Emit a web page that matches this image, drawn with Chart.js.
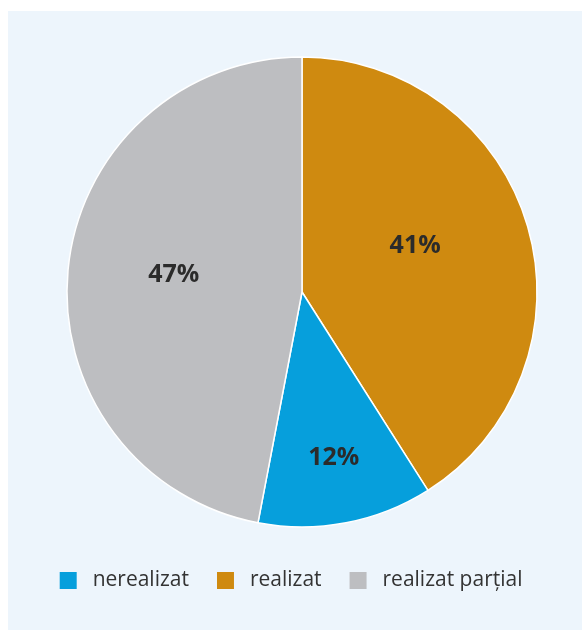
<!DOCTYPE html>
<html lang="ro">
<head>
    <meta charset="UTF-8">
    <title>Realizare</title>
    <script src="https://cdn.jsdelivr.net/npm/chart.js"></script>
    <style>
        body {
            margin: 0;
            background: #ffffff;
        }
        .panel {
            position: absolute;
            left: 8px;
            top: 11px;
            width: 588px;
            height: 619px;
            background: #edf5fc;
        }
    </style>
</head>
<body>
    <div class="panel">
        <canvas id="myChart" width="588" height="619"></canvas>
    </div>
    <script>
        // slices in drawing order, clockwise from 12 o'clock
        const categories = ['realizat', 'nerealizat', 'realizat parțial'];
        const values = [41, 12, 47];
        const colors = ['#cf8a10', '#069fdc', '#bdbec1'];
        // legend shows them in another order
        const legendOrder = ['nerealizat', 'realizat', 'realizat parțial'];
        // where each percentage sits: fraction of radius, and a small turn (degrees)
        const labelDist = [0.52, 0.72, 0.55];
        const labelTurn = [-6, 0, 2];

        const pctLabels = {
            id: 'pctLabels',
            afterDatasetsDraw(chart) {
                const ctx = chart.ctx;
                const meta = chart.getDatasetMeta(0);
                ctx.save();
                ctx.font = 'bold 25px "Open Sans"';
                ctx.fillStyle = '#2b2b2b';
                ctx.textAlign = 'center';
                ctx.textBaseline = 'middle';
                meta.data.forEach(function (arc, i) {
                    const p = arc.getProps(['x', 'y', 'startAngle', 'endAngle', 'outerRadius'], true);
                    const mid = (p.startAngle + p.endAngle) / 2 + labelTurn[i] * Math.PI / 180;
                    const r = p.outerRadius * labelDist[i];
                    ctx.fillText(values[i] + '%', p.x + Math.cos(mid) * r, p.y + Math.sin(mid) * r);
                });
                ctx.restore();
            }
        };

        const ctx = document.getElementById('myChart');
        const myChart = new Chart(ctx, {
            type: 'pie',
            data: {
                labels: categories,
                datasets: [{
                    data: values,
                    backgroundColor: colors,
                    borderColor: '#ffffff',
                    borderWidth: 1.5,
                    radius: 235
                }]
            },
            options: {
                responsive: false,
                animation: false,
                layout: {
                    padding: { top: 31, bottom: 29 }
                },
                plugins: {
                    tooltip: { enabled: false },
                    legend: {
                        position: 'bottom',
                        labels: {
                            boxWidth: 17,
                            boxHeight: 17,
                            padding: 28,
                            color: '#333333',
                            font: { family: '"Open Sans"', size: 21 },
                            generateLabels(chart) {
                                const items = Chart.overrides.pie.plugins.legend.labels.generateLabels(chart);
                                items.forEach(function (it) {
                                    it.text = ' ' + it.text;
                                    // trailing room nudges the whole row left
                                    if (it.text === ' realizat parțial') it.text += '    ';
                                    it.lineWidth = 0;
                                });
                                return items;
                            },
                            sort(a, b, data) {
                                return legendOrder.indexOf(data.labels[a.index]) - legendOrder.indexOf(data.labels[b.index]);
                            }
                        }
                    }
                }
            },
            plugins: [pctLabels]
        });
    </script>
</body>
</html>
